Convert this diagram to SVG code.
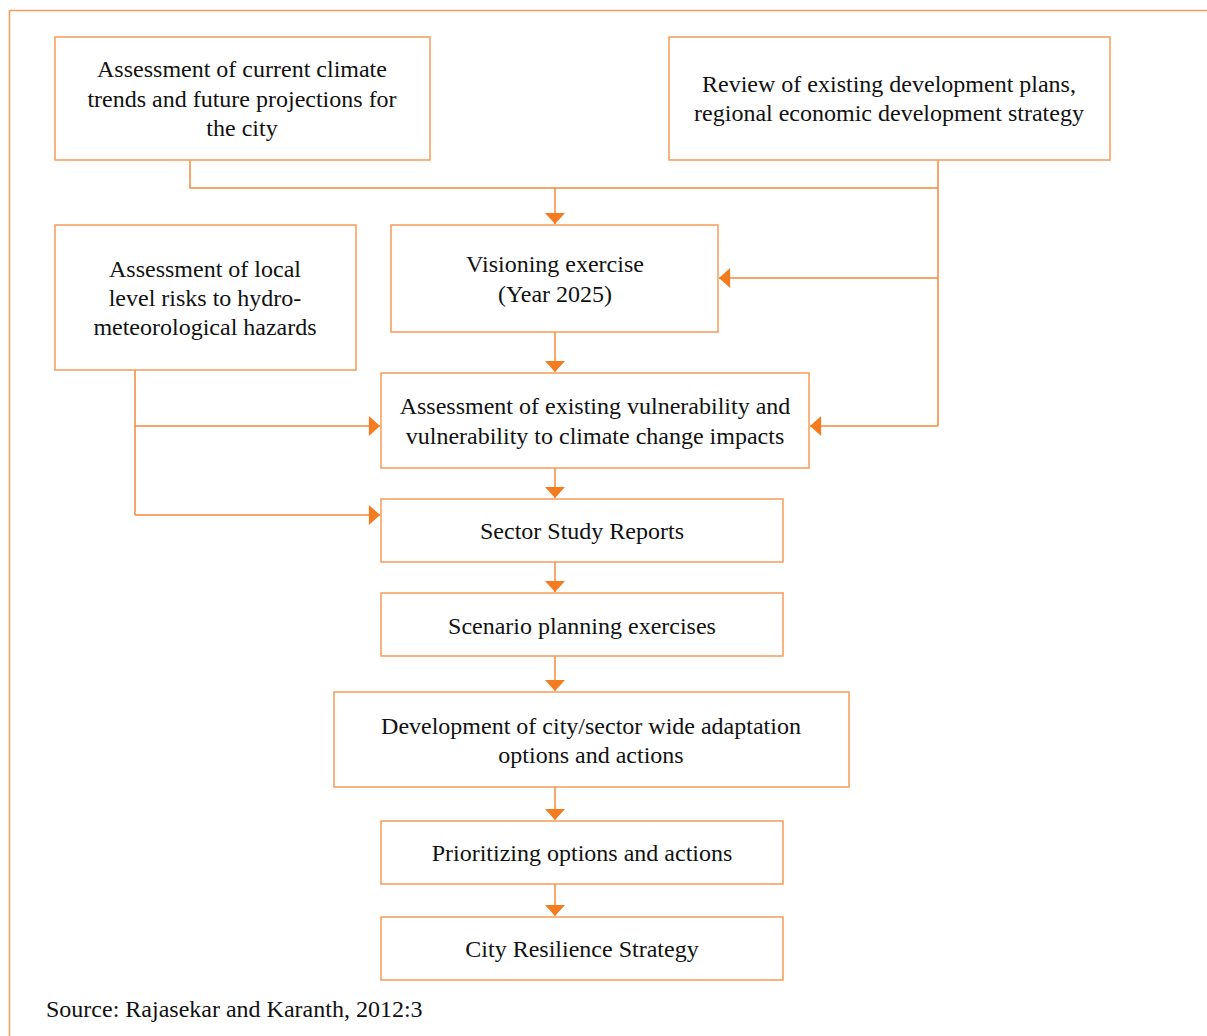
<svg xmlns="http://www.w3.org/2000/svg" width="1207" height="1036" viewBox="0 0 1207 1036">
<defs>
<style>
.box{fill:#fff;stroke:#F79B58;stroke-width:1.5}
.con{fill:none;stroke:#F58A3C;stroke-width:1.5}
.t{font-family:"Liberation Serif","Times New Roman",serif;font-size:24px;fill:#111;text-anchor:middle}
.src{font-family:"Liberation Serif","Times New Roman",serif;font-size:24px;fill:#111}
</style>
<marker id="ah" markerUnits="userSpaceOnUse" markerWidth="20" markerHeight="20" viewBox="0 0 10 18" refX="10" refY="9" orient="auto">
<path d="M0,0 L10,9 L0,18 Z" fill="#F47B20"/>
</marker>
</defs>
<rect width="1207" height="1036" fill="#fff"/>
<path d="M9.5,1036 V10.5 H1207" fill="none" stroke="#F79B58" stroke-width="1.5"/>

<g id="connectors">
<path class="con" d="M190,160 V188 H938"/>
<path class="con" d="M938,160 V426"/>
<path class="con" d="M555,188 V224" marker-end="url(#ah)"/>
<path class="con" d="M938,278 H719" marker-end="url(#ah)"/>
<path class="con" d="M938,426 H810" marker-end="url(#ah)"/>
<path class="con" d="M555,332 V372" marker-end="url(#ah)"/>
<path class="con" d="M135,370 V515"/>
<path class="con" d="M135,426 H380" marker-end="url(#ah)"/>
<path class="con" d="M135,515 H380" marker-end="url(#ah)"/>
<path class="con" d="M555,468 V498" marker-end="url(#ah)"/>
<path class="con" d="M555,562 V592" marker-end="url(#ah)"/>
<path class="con" d="M555,656 V691" marker-end="url(#ah)"/>
<path class="con" d="M555,787 V820" marker-end="url(#ah)"/>
<path class="con" d="M555,884 V916" marker-end="url(#ah)"/>
</g>

<g id="n1"><rect class="box" x="55" y="37" width="375" height="123"/>
<text class="t" x="242" y="77">Assessment of current climate</text>
<text class="t" x="242" y="107">trends and future projections for</text>
<text class="t" x="242" y="136">the city</text></g>

<g id="n2"><rect class="box" x="669" y="37" width="441" height="123"/>
<text class="t" x="889" y="92">Review of existing development plans,</text>
<text class="t" x="889" y="121">regional economic development strategy</text></g>

<g id="n3"><rect class="box" x="391" y="225" width="327" height="107"/>
<text class="t" x="555" y="272">Visioning exercise</text>
<text class="t" x="555" y="302">(Year 2025)</text></g>

<g id="n4"><rect class="box" x="55" y="225" width="301" height="145"/>
<text class="t" x="205" y="277">Assessment of local</text>
<text class="t" x="205" y="306">level risks to hydro-</text>
<text class="t" x="205" y="335">meteorological hazards</text></g>

<g id="n5"><rect class="box" x="381" y="373" width="428" height="95"/>
<text class="t" x="595" y="414">Assessment of existing vulnerability and</text>
<text class="t" x="595" y="444">vulnerability to climate change impacts</text></g>

<g id="n6"><rect class="box" x="381" y="499" width="402" height="63"/>
<text class="t" x="582" y="539">Sector Study Reports</text></g>

<g id="n7"><rect class="box" x="381" y="593" width="402" height="63"/>
<text class="t" x="582" y="634">Scenario planning exercises</text></g>

<g id="n8"><rect class="box" x="334" y="692" width="515" height="95"/>
<text class="t" x="591" y="734">Development of city/sector wide adaptation</text>
<text class="t" x="591" y="763">options and actions</text></g>

<g id="n9"><rect class="box" x="381" y="821" width="402" height="63"/>
<text class="t" x="582" y="861">Prioritizing options and actions</text></g>

<g id="n10"><rect class="box" x="381" y="917" width="402" height="63"/>
<text class="t" x="582" y="957">City Resilience Strategy</text></g>

<text class="src" x="46" y="1017">Source: Rajasekar and Karanth, 2012:3</text>
</svg>
